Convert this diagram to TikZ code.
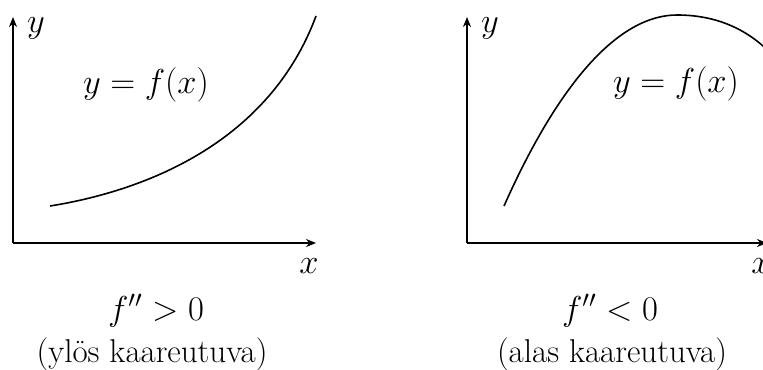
\documentclass[tikz,border=0pt]{standalone}
\usetikzlibrary{arrows.meta}
\begin{document}
\begin{tikzpicture}[x=0.5pt,y=-0.5pt,
  axis/.style={line width=1pt,-{Stealth[length=5pt,width=4pt]}},
  curve/.style={line width=0.8pt},
  lbl/.style={font=\fontsize{16.5}{20}\selectfont,inner sep=0pt,anchor=base}]
\useasboundingbox (0,0) rectangle (763,369);
\begin{scope}
\clip (0,0) rectangle (763,369);
% left panel
\coordinate (lo) at (13,243);
\coordinate (ly) at (13,17);
\coordinate (lx) at (316,243);
\draw[axis] (lo) -- (ly);
\draw[axis] (lo) -- (lx);
\node[lbl] (lyl) at (36,33) {$y$};
\node[lbl] (lxl) at (309,273) {$x$};
\coordinate (la) at (50,206);
\coordinate (lb) at (316,16);
\draw[curve] (la) .. controls (150,190) and (270,140) .. (lb);
\node[lbl] (lf) at (146,93) {$y=f(x)$};
\node[lbl] (lc) at (156,320) {$f''>0$};
\node[lbl] (lt) at (152,362) {(ylös kaareutuva)};
% right panel
\coordinate (ro) at (467,243);
\coordinate (ry) at (467,17);
\coordinate (rx) at (767,243);
\draw[axis] (ro) -- (ry);
\draw[axis] (ro) -- (rx);
\node[lbl] (ryl) at (490,33) {$y$};
\node[lbl] (rxl) at (761,273) {$x$};
\coordinate (ra) at (504,206);
\coordinate (rp) at (677,15);
\coordinate (rb) at (775,58);
\draw[curve] (ra) .. controls (560,80) and (620,15) .. (rp) .. controls (720,15) and (752,32) .. (rb);
\node[lbl] (rf) at (676,92) {$y=f(x)$};
\node[lbl] (rc) at (610,320) {$f''<0$};
\node[lbl] (rt) at (612,362) {(alas kaareutuva)};
\end{scope}
\end{tikzpicture}
\end{document}
